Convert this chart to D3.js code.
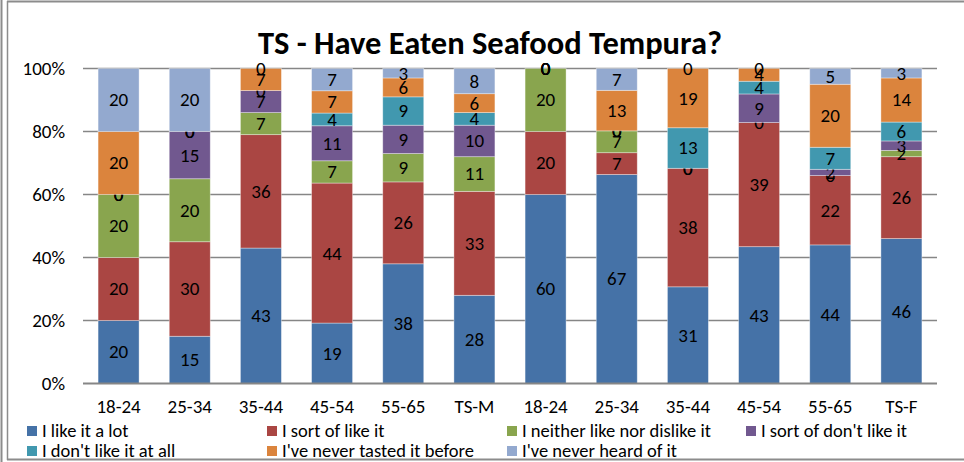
<!DOCTYPE html>
<html>

<head>
    <meta charset="utf-8">
    <title>TS - Have Eaten Seafood Tempura?</title>
    <script type="text/javascript" src="https://d3js.org/d3.v7.min.js"></script>

    <style>
        body {
            margin: 0;
            background: #fff;
        }

        svg {
            display: block;
            font-family: Carlito, "Open Sans", sans-serif;
        }

        .grid line {
            stroke: #868686;
            stroke-width: 1.3;
        }
    </style>

</head>

<body>
</body>

<script type="text/javascript">
    //Width and height
    var w = 964;
    var h = 462;

    //Chart data
    var categories = ["18-24", "25-34", "35-44", "45-54", "55-65", "TS-M",
        "18-24", "25-34", "35-44", "45-54", "55-65", "TS-F"];

    var seriesNames = ["I like it a lot", "I sort of like it", "I neither like nor dislike it",
        "I sort of don't like it", "I don't like it at all", "I've never tasted it before",
        "I've never heard of it"];

    var likeALot      = [20, 15, 43, 19, 38, 28, 60, 67, 31, 43, 44, 46];
    var sortOfLike    = [20, 30, 36, 44, 26, 33, 20, 7, 38, 39, 22, 26];
    var neither       = [20, 20, 7, 7, 9, 11, 20, 7, 0, 0, 0, 2];
    var sortOfDont    = [0, 15, 7, 11, 9, 10, 0, 0, 0, 9, 2, 3];
    var dontAtAll     = [0, 0, 0, 4, 9, 4, 0, 0, 13, 4, 7, 6];
    var neverTasted   = [20, 0, 7, 7, 6, 6, 0, 13, 19, 4, 20, 14];
    var neverHeard    = [20, 20, 0, 7, 3, 8, 0, 7, 0, 0, 5, 3];

    var yTicks = [0, 0.2, 0.4, 0.6, 0.8, 1];

    var colors = ["#4572A7", "#AA4643", "#89A54E", "#71588F", "#4198AF", "#DB843D", "#93A9CF"];

    var allSeries = [likeALot, sortOfLike, neither, sortOfDont, dontAtAll, neverTasted, neverHeard];

    //Build one row per category
    var rows = categories.map(function(c, i) {
        var row = { idx: i, cat: c };
        allSeries.forEach(function(s, k) {
            row["s" + k] = s[i];
        });
        return row;
    });

    var keys = seriesNames.map(function(d, k) { return "s" + k; });

    var stacked = d3.stack()
        .keys(keys)
        .offset(d3.stackOffsetExpand)(rows);

    //Plot area
    var margin = { top: 68.5, right: 27, bottom: 78.5, left: 83 };

    var x = d3.scaleBand()
        .domain(d3.range(categories.length))
        .range([margin.left, w - margin.right])
        .paddingInner(0.424)
        .paddingOuter(0.212);

    var y = d3.scaleLinear()
        .domain([0, 1])
        .range([h - margin.bottom, margin.top]);

    //Create SVG element
    var svg = d3.select("body")
        .append("svg")
        .attr("width", w)
        .attr("height", h);

    //Outer frame
    svg.append("line").attr("x1", 1.5).attr("x2", 1.5).attr("y1", 0).attr("y2", h)
        .attr("stroke", "#8c8c8c").attr("stroke-width", 2);
    svg.append("line").attr("x1", 7.5).attr("x2", 7.5).attr("y1", 1).attr("y2", 460)
        .attr("stroke", "#8c8c8c").attr("stroke-width", 1.5);
    svg.append("line").attr("x1", 7).attr("x2", w).attr("y1", 1.5).attr("y2", 1.5)
        .attr("stroke", "#8c8c8c").attr("stroke-width", 2);
    svg.append("line").attr("x1", 7).attr("x2", w).attr("y1", 459.5).attr("y2", 459.5)
        .attr("stroke", "#8c8c8c").attr("stroke-width", 2);

    //Title
    svg.append("text")
        .attr("x", 490)
        .attr("y", 54)
        .attr("text-anchor", "middle")
        .style("font-size", "32.5px")
        .style("font-weight", "bold")
        .style("fill", "#000")
        .text("TS - Have Eaten Seafood Tempura?");

    //Gridlines
    var grid = svg.append("g").attr("class", "grid");
    grid.selectAll("line")
        .data(yTicks.slice(1))
        .enter()
        .append("line")
        .attr("x1", margin.left)
        .attr("x2", w - margin.right)
        .attr("y1", function(d) { return y(d); })
        .attr("y2", function(d) { return y(d); });

    //Y axis labels
    var yAxis = d3.axisLeft(y)
        .tickValues(yTicks)
        .tickFormat(d3.format(".0%"))
        .tickSize(0)
        .tickPadding(18);

    svg.append("g")
        .attr("transform", "translate(" + margin.left + ",0)")
        .call(yAxis)
        .call(function(g) { g.select(".domain").remove(); })
        .selectAll("text")
        .style("font-family", "Carlito, 'Open Sans', sans-serif")
        .style("font-size", "19px")
        .style("fill", "#000");

    //Bars
    var layers = svg.selectAll("g.layer")
        .data(stacked)
        .enter()
        .append("g")
        .attr("class", "layer")
        .style("fill", function(d, i) { return colors[i]; });

    layers.selectAll("rect")
        .data(function(d) { return d; })
        .enter()
        .append("rect")
        .attr("x", function(d) { return x(d.data.idx); })
        .attr("width", x.bandwidth())
        .attr("y", function(d) { return y(d[1]); })
        .attr("height", function(d) { return y(d[0]) - y(d[1]); })
        .attr("stroke", "#ffffff")
        .attr("stroke-opacity", 0.45)
        .attr("stroke-width", 0.8);

    //Baseline
    svg.append("line")
        .attr("x1", margin.left)
        .attr("x2", w - margin.right)
        .attr("y1", y(0))
        .attr("y2", y(0))
        .attr("stroke", "#868686")
        .attr("stroke-width", 2);

    //Data labels
    layers.each(function(layer, k) {
        d3.select(this).selectAll("text")
            .data(layer)
            .enter()
            .append("text")
            .attr("x", function(d) { return x(d.data.idx) + x.bandwidth() / 2; })
            .attr("y", function(d) { return (y(d[0]) + y(d[1])) / 2; })
            .attr("dy", "0.34em")
            .attr("text-anchor", "middle")
            .style("font-size", "19px")
            .style("fill", "#000")
            .text(function(d) { return d.data[layer.key]; });
    });

    //X axis labels
    var xAxis = d3.axisBottom(x)
        .tickFormat(function(i) { return categories[i]; })
        .tickSize(0)
        .tickPadding(16.5);

    svg.append("g")
        .attr("transform", "translate(0," + y(0) + ")")
        .call(xAxis)
        .call(function(g) { g.select(".domain").remove(); })
        .selectAll("text")
        .style("font-family", "Carlito, 'Open Sans', sans-serif")
        .style("font-size", "19px")
        .style("fill", "#000");

    //Legend
    var legendX = [27, 267, 507, 746];
    var legendY = [431, 451];

    var legend = svg.selectAll("g.legend")
        .data(seriesNames)
        .enter()
        .append("g")
        .attr("class", "legend")
        .attr("transform", function(d, i) {
            return "translate(" + legendX[i % 4] + "," + legendY[Math.floor(i / 4)] + ")";
        });

    legend.append("rect")
        .attr("x", 0)
        .attr("y", -5)
        .attr("width", 10)
        .attr("height", 10)
        .style("fill", function(d, i) { return colors[i]; });

    legend.append("text")
        .attr("x", 15)
        .attr("y", 0)
        .attr("dy", "0.34em")
        .style("font-size", "18.5px")
        .style("fill", "#000")
        .text(function(d) { return d; });
</script>

</html>
